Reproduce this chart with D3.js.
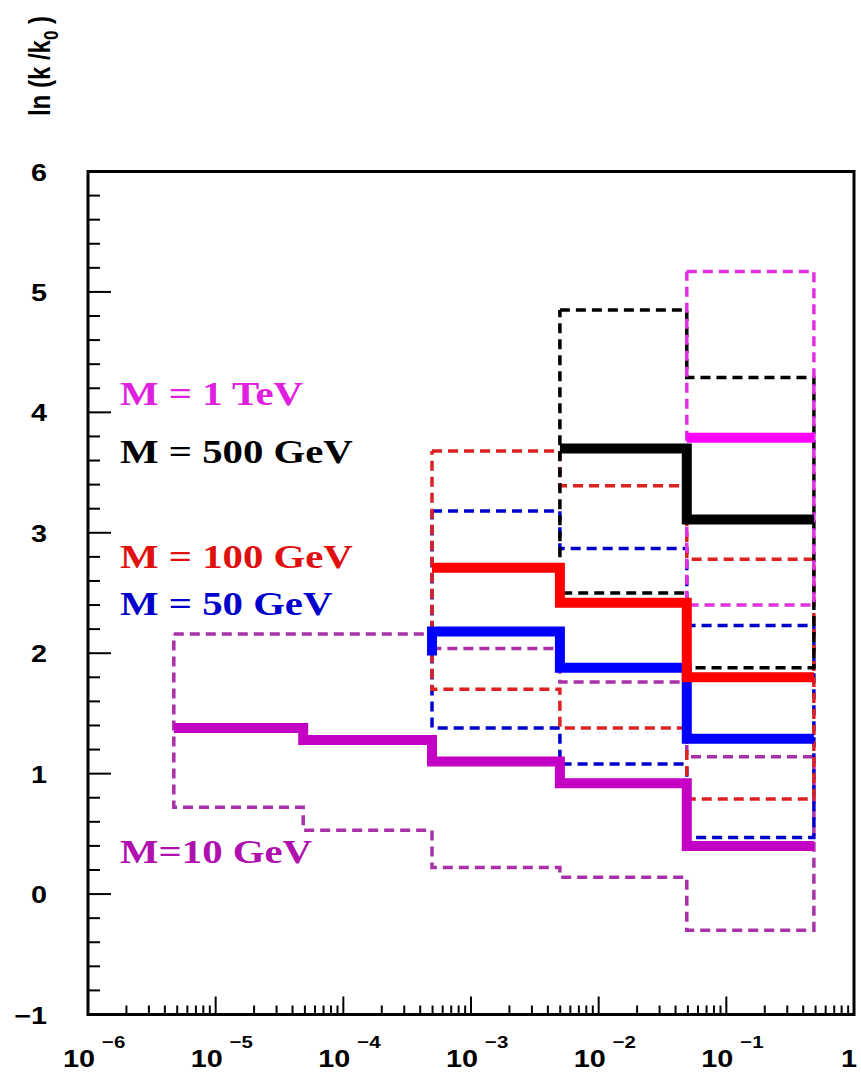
<!DOCTYPE html>
<html>
<head>
<meta charset="utf-8">
<script src="https://cdn.jsdelivr.net/npm/d3@7"></script>
<style>
  html, body { margin: 0; padding: 0; background: #fff; }
  svg { display: block; }
</style>
</head>
<body>
<svg id="chart" width="861" height="1072"></svg>
<script>
// ---------- data ----------
const binEdges = [4.7e-6, 4.85e-5, 4.95e-4, 4.97e-3, 4.9e-2, 0.485];

// M = 10 GeV (bins 1..5)
const m10Central = [1.38, 1.28, 1.10, 0.92, 0.40];
const m10Upper   = [2.16, 2.16, 2.04, 1.76, 1.14];
const m10Lower   = [0.72, 0.53, 0.22, 0.14, -0.30];
// M = 50 GeV (bins 3..5)
const m50Lead    = 1.98;
const m50Central = [2.18, 1.88, 1.29];
const m50Upper   = [3.18, 2.87, 2.23];
const m50Lower   = [1.38, 1.08, 0.47];
// M = 100 GeV (bins 3..5)
const m100Central = [2.71, 2.42, 1.80];
const m100Upper   = [3.68, 3.39, 2.78];
const m100Lower   = [1.70, 1.38, 0.79];
// M = 500 GeV (bins 4..5)
const m500Central = [3.70, 3.11];
const m500Upper   = [4.85, 4.29];
const m500Lower   = [2.50, 1.88];
// M = 1 TeV (bin 5)
const m1000Central = [3.79];
const m1000Upper   = [5.17];
const m1000Lower   = [2.40];

const yTicks = [-1, 0, 1, 2, 3, 4, 5, 6];
const xDecades = [-6, -5, -4, -3, -2, -1, 0];
const legendLabels = ["M = 1 TeV", "M = 500 GeV", "M = 100 GeV", "M = 50 GeV", "M=10 GeV"];

// ---------- layout ----------
const svg = d3.select("#chart");
const X0 = 88, X1 = 854, Y0 = 171.5, Y1 = 1014.5;
const x = d3.scaleLog().domain([1e-6, 1]).range([X0, X1]);
const y = d3.scaleLinear().domain([-1, 6]).range([Y1, Y0]);
const SX = 1.2; // horizontal stretch of the glyphs

svg.append("rect").attr("width", 861).attr("height", 1072).attr("fill", "#fff");

const line = d3.line().x(d => x(d[0])).y(d => y(d[1]));

function stepPoints(vals, startBin) {
  const pts = [];
  vals.forEach((v, i) => {
    pts.push([binEdges[startBin + i], v]);
    pts.push([binEdges[startBin + i + 1], v]);
  });
  return pts;
}
function bandPoints(upper, lower, startBin) {
  const up = stepPoints(upper, startBin);
  const lo = stepPoints(lower, startBin).reverse();
  return up.concat(lo, [up[0]]);
}

const series = [
  { c: m10Central, u: m10Upper, l: m10Lower, s: 0, solid: "#c400c4", dash: "#a830a8" },
  { c: m50Central, u: m50Upper, l: m50Lower, s: 2, solid: "#0000ff", dash: "#0000cc", lead: m50Lead },
  { c: m100Central, u: m100Upper, l: m100Lower, s: 2, solid: "#ff0000", dash: "#dd2020" },
  { c: m500Central, u: m500Upper, l: m500Lower, s: 3, solid: "#000000", dash: "#000000" },
  { c: m1000Central, u: m1000Upper, l: m1000Lower, s: 4, solid: "#ff00ff", dash: "#e030e0" }
];

const plot = svg.append("g");
// dashed bands
series.forEach(sr => {
  plot.append("path")
    .attr("d", line(bandPoints(sr.u, sr.l, sr.s)))
    .attr("fill", "none")
    .attr("stroke", sr.dash)
    .attr("stroke-width", 3.5)
    .attr("stroke-dasharray", "10,6");
});
// solid central lines
series.forEach(sr => {
  let pts = stepPoints(sr.c, sr.s);
  if (sr.lead !== undefined) pts = [[binEdges[sr.s], sr.lead]].concat(pts);
  plot.append("path")
    .attr("d", line(pts))
    .attr("fill", "none")
    .attr("stroke", sr.solid)
    .attr("stroke-width", 10)
    .attr("stroke-linejoin", "miter")
    .attr("stroke-linecap", "butt");
});

// ---------- frame & ticks ----------
const axes = svg.append("g").attr("stroke", "#000");
axes.append("rect").attr("x", X0).attr("y", Y0).attr("width", X1 - X0).attr("height", Y1 - Y0)
  .attr("fill", "none").attr("stroke-width", 3);

// y ticks
for (let v = -1; v <= 6.0001; v += 0.2) {
  const vv = Math.round(v * 10) / 10;
  const major = Math.abs(vv - Math.round(vv)) < 1e-6;
  axes.append("line").attr("x1", X0).attr("x2", X0 + (major ? 23 : 12))
    .attr("y1", y(vv)).attr("y2", y(vv)).attr("stroke-width", 2);
}
// x ticks
xDecades.forEach((d, i) => {
  if (i < xDecades.length - 1) {
    for (let m = 2; m <= 9; m++) {
      const xv = x(m * Math.pow(10, d));
      axes.append("line").attr("x1", xv).attr("x2", xv).attr("y1", Y1).attr("y2", Y1 - 9).attr("stroke-width", 2);
    }
  }
  if (i > 0 && i < xDecades.length - 1) {
    const xv = x(Math.pow(10, d));
    axes.append("line").attr("x1", xv).attr("x2", xv).attr("y1", Y1).attr("y2", Y1 - 18).attr("stroke-width", 2);
  }
});

// ---------- labels ----------
const sans = "'Liberation Sans', Arial, Helvetica, sans-serif";
const serif = "'Liberation Serif', 'Times New Roman', serif";

yTicks.forEach(t => {
  svg.append("text")
    .attr("transform", `translate(47,${y(t) + 9}) scale(${SX},1)`)
    .attr("text-anchor", "end")
    .attr("font-family", sans).attr("font-weight", "bold").attr("font-size", 24)
    .text(t < 0 ? "\u2212" + Math.abs(t) : String(t));
});

xDecades.forEach(d => {
  const xv = x(Math.pow(10, d));
  if (d === 0) {
    svg.append("text")
      .attr("transform", `translate(${xv + 3},1067) scale(${SX},1)`)
      .attr("text-anchor", "end")
      .attr("font-family", sans).attr("font-weight", "bold").attr("font-size", 24)
      .text("1");
  } else {
    svg.append("text")
      .attr("transform", `translate(${xv + 7},1067) scale(${SX},1)`)
      .attr("text-anchor", "end")
      .attr("font-family", sans).attr("font-weight", "bold").attr("font-size", 24)
      .text("10");
    svg.append("text")
      .attr("transform", `translate(${xv + 14},1048) scale(${SX},1)`)
      .attr("text-anchor", "start")
      .attr("font-family", sans).attr("font-weight", "bold").attr("font-size", 17)
      .text("\u2212" + Math.abs(d));
  }
});

// y-axis title
const yt = svg.append("text")
  .attr("transform", "translate(50,66) rotate(-90) scale(1,1.2)")
  .attr("text-anchor", "middle")
  .attr("font-family", sans).attr("font-weight", "bold").attr("font-size", 24);
yt.append("tspan").text("ln (k /k");
yt.append("tspan").attr("font-size", 17).attr("dy", 7).text("0");
yt.append("tspan").attr("dy", -7).text(" )");

// legend
const legendPos = [[120, 405], [120, 463], [120, 568], [120, 615], [120, 863]];
const legendColors = ["#e020e0", "#000000", "#e01010", "#0000cc", "#b010b0"];
legendLabels.forEach((lab, i) => {
  svg.append("text")
    .attr("transform", `translate(${legendPos[i][0]},${legendPos[i][1]}) scale(${SX},1)`)
    .attr("font-family", serif).attr("font-weight", "bold").attr("font-size", 34)
    .attr("fill", legendColors[i])
    .text(lab);
});
</script>
</body>
</html>
